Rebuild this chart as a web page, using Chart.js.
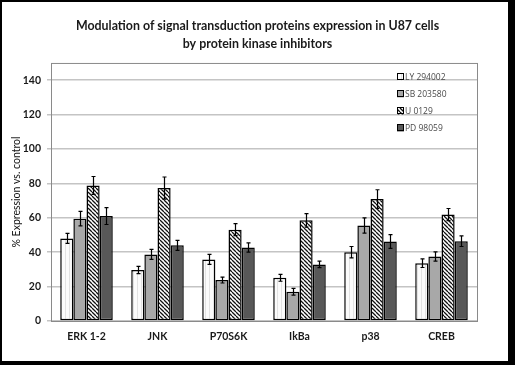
<!DOCTYPE html>
<html lang="en">
<head>
<meta charset="UTF-8">
<title>Modulation of signal transduction proteins expression in U87 cells</title>
<script src="https://cdn.jsdelivr.net/npm/chart.js"></script>
<style>
    body { margin: 0; background: #fff; }
    .chart-box { width: 515px; height: 365px; position: relative; }
</style>
</head>
<body>
<div class="chart-box"><canvas id="kinaseChart"></canvas></div>
<script>
// categories and series
const categories = ["ERK 1-2", "JNK", "P70S6K", "IkBa", "p38", "CREB"];
const seriesNames = ["LY 294002", "SB 203580", "U 0129", "PD 98059"];

const lyValues = [48, 29.6, 35.8, 25.1, 40, 33.6];
const sbValues = [59.5, 38.7, 23.8, 17, 55.5, 37.5];
const uValues  = [78.8, 77.3, 53.1, 58.5, 70.9, 61.9];
const pdValues = [61, 44, 42.7, 32.9, 46.2, 46.4];

const lyErrors = [2.9, 2.1, 2.9, 2, 3.3, 2.5];
const sbErrors = [4.2, 2.9, 1.7, 2, 4.4, 2.7];
const uErrors  = [5.2, 6.4, 3.5, 3.9, 5.4, 3.5];
const pdErrors = [4.9, 2.9, 2.7, 1.9, 4, 3.1];

const yTicks = [0, 20, 40, 60, 80, 100, 120, 140];

// fill patterns
function makePattern(w, h, paint) {
    const c = document.createElement("canvas");
    c.width = w; c.height = h;
    const g = c.getContext("2d");
    paint(g, w, h);
    return g.createPattern(c, "repeat");
}
const ctxMain = document.getElementById("kinaseChart").getContext("2d");
const lyFill = makePattern(4, 4, (g, w, h) => {
    g.fillStyle = "#fbfbfb"; g.fillRect(0, 0, w, h);
    g.fillStyle = "#e2e2e2"; g.fillRect(1, 0, 1, h);
});
const sbFill = "#a8a8a8";
const uFill = makePattern(4, 4, (g, w, h) => {
    g.fillStyle = "#fff"; g.fillRect(0, 0, w, h);
    g.strokeStyle = "#111"; g.lineWidth = 1.3;
    g.beginPath();
    for (let k = -1; k <= 1; k++) {
        g.moveTo(k * w, 0); g.lineTo(k * w + w, h);
    }
    g.stroke();
});
const pdFill = "#585858";

const valueSets = [lyValues, sbValues, uValues, pdValues];
const errorSets = [lyErrors, sbErrors, uErrors, pdErrors];
const fills = [lyFill, sbFill, uFill, pdFill];

const datasets = seriesNames.map((name, i) => ({
    label: name,
    data: valueSets[i],
    errors: errorSets[i],
    backgroundColor: fills[i],
    borderColor: "#000",
    borderWidth: 1.5,
    borderSkipped: false,
    categoryPercentage: 0.74,
    barPercentage: 1.0
}));

// white page with black frame
const framePlugin = {
    id: "frame",
    beforeDraw(chart) {
        const c = chart.ctx;
        c.save();
        c.fillStyle = "#000";
        c.fillRect(0, 0, chart.width, chart.height);
        c.fillStyle = "#fff";
        c.fillRect(2, 2, 506, 359);
        c.restore();
    },
    beforeDatasetsDraw(chart) {
        const a = chart.chartArea, c = chart.ctx;
        c.save();
        c.strokeStyle = "#8a8a8a";
        c.lineWidth = 1;
        c.strokeRect(a.left + 0.5, a.top + 0.5, a.right - a.left, a.bottom - a.top);
        c.restore();
    }
};

const errorBarPlugin = {
    id: "errorBars",
    afterDatasetsDraw(chart) {
        const c = chart.ctx, y = chart.scales.y;
        c.save();
        c.strokeStyle = "#000";
        c.lineWidth = 1.2;
        chart.data.datasets.forEach((ds, i) => {
            chart.getDatasetMeta(i).data.forEach((bar, j) => {
                const hi = y.getPixelForValue(ds.data[j] + ds.errors[j]);
                const lo = y.getPixelForValue(ds.data[j] - ds.errors[j]);
                const x = Math.round(bar.x) + 0.5;
                c.beginPath();
                c.moveTo(x, hi); c.lineTo(x, lo);
                c.moveTo(x - 2, hi); c.lineTo(x + 2, hi);
                c.moveTo(x - 2, lo); c.lineTo(x + 2, lo);
                c.stroke();
            });
        });
        c.restore();
    }
};

// legend drawn inside the plot, top right
const insideLegend = {
    id: "insideLegend",
    afterDraw(chart) {
        const c = chart.ctx;
        c.save();
        c.font = "8.5px 'Open Sans', sans-serif";
        c.textBaseline = "middle";
        chart.data.datasets.forEach((ds, i) => {
            const yc = 77 + i * 17;
            c.fillStyle = ds.backgroundColor;
            c.fillRect(397, yc - 3.5, 7, 7);
            c.strokeStyle = "#000";
            c.lineWidth = 1;
            c.strokeRect(397.5, yc - 3.5, 6, 6);
            c.fillStyle = "#4a4a4a";
            c.fillText(ds.label, 405, yc + 0.5);
        });
        c.restore();
    }
};

new Chart(ctxMain, {
    type: "bar",
    data: { labels: categories, datasets: datasets },
    options: {
        responsive: true,
        maintainAspectRatio: false,
        animation: false,
        layout: { padding: 0 },
        plugins: {
            legend: { display: false },
            tooltip: { enabled: false },
            title: {
                display: true,
                text: ["Modulation of signal transduction proteins expression in U87 cells",
                       "by protein kinase inhibitors"],
                color: "#1a1a1a",
                font: { family: "Lato", size: 12.4, weight: "bold", lineHeight: 1.45 },
                padding: { top: 17, bottom: 10 }
            }
        },
        scales: {
            x: {
                grid: { display: false, drawTicks: false },
                border: { display: false },
                ticks: { color: "#1a1a1a", font: { family: "Lato", size: 10.5, weight: "bold" }, padding: 9 },
                afterFit: s => { s.height = 44; }
            },
            y: {
                min: 0,
                max: 150,
                ticks: {
                    stepSize: 20,
                    color: "#1a1a1a",
                    font: { family: "Lato", size: 10.5, weight: "bold" },
                    padding: 6
                },
                afterBuildTicks: s => { s.ticks = yTicks.map(v => ({ value: v })); },
                grid: { color: "#c4c4c4", lineWidth: 1.5, tickLength: 4 },
                border: { display: false },
                title: {
                    display: true,
                    text: "% Expression vs. control",
                    color: "#111",
                    font: { family: "Lato", size: 10.5 },
                    padding: { top: 10, bottom: 0 }
                },
                afterFit: s => { s.width = 51; }
            },
            // empty right-hand margin so the title stays centred on the page
            yRight: {
                position: "right",
                min: 0,
                max: 150,
                grid: { display: false },
                border: { display: false },
                ticks: { display: false },
                afterFit: s => { s.width = 38; }
            }
        }
    },
    plugins: [framePlugin, errorBarPlugin, insideLegend]
});
</script>
</body>
</html>
